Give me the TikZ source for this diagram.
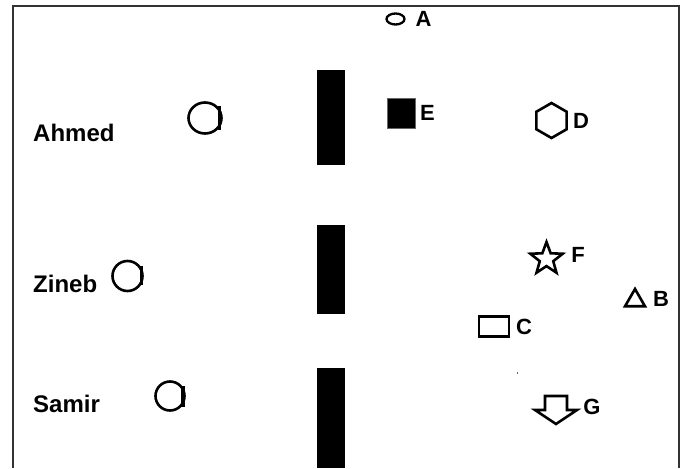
\documentclass[tikz,border=0pt]{standalone}
\usepackage{fontspec}
\setmainfont{Liberation Sans}
\usetikzlibrary{shapes.geometric,shapes.arrows}
\begin{document}
\begin{tikzpicture}[x=1pt,y=-1pt,
  shp/.style={draw=black,line width=2.6pt,inner sep=0pt},
  lbl/.style={font=\fontsize{22}{22}\selectfont\bfseries,inner sep=0pt},
  personlbl/.style={font=\fontsize{24}{24}\selectfont\bfseries,inner sep=0pt,anchor=west}]
\useasboundingbox (0,0) rectangle (687,468);
\fill[white] (0,0) rectangle (687,468);
% frame
\draw[line width=1.6pt,black!80] (13,468) -- (13,6) -- (679,6) -- (679,468);
% walls
\fill[black] (317,70) rectangle (345,165);
\fill[black] (317,225) rectangle (345,314);
\fill[black] (317,368) rectangle (345,468);
% people
\node[personlbl] (ahmed) at (33,132.5) {Ahmed};
\node[personlbl] (zineb) at (33,283.5) {Zineb};
\node[personlbl] (samir) at (33,403.5) {Samir};
\draw[line width=2.6pt] (205,118) ellipse [x radius=16.5, y radius=15.5];
\draw[line width=3.5pt] (219.5,106) -- (219.5,130);
\draw[line width=2.6pt] (127.5,276) circle [radius=15];
\draw[line width=3.5pt] (141.5,266) -- (141.5,285);
\draw[line width=2.6pt] (170,396) circle [radius=14.5];
\draw[line width=3.5pt] (183,386) -- (183,407);
% objects
\node[shp,ellipse,minimum width=18pt,minimum height=11pt,line width=2.3pt] (a) at (395.5,19) {};
\node[lbl] (la) at (423.5,18.5) {A};
\node[draw=black!60,fill=black,minimum width=28pt,minimum height=30pt,inner sep=0pt,line width=0.5pt] (e) at (401,113) {};
\node[lbl] (le) at (427.5,113) {E};
\node[shp,regular polygon,regular polygon sides=6,shape border rotate=30,minimum size=35pt] (d) at (551.5,120.5) {};
\node[lbl] (ld) at (581,120.5) {D};
\node[shp,star,star points=5,star point ratio=2.4,minimum size=34pt] (f) at (546.5,259) {};
\node[lbl] (lf) at (578,254.5) {F};
\node[shp,regular polygon,regular polygon sides=3,minimum size=23pt] (b) at (635,300.5) {};
\node[lbl] (lb) at (661,299) {B};
\node[shp,rectangle,minimum width=30pt,minimum height=20pt] (c) at (494,326.5) {};
\node[lbl] (lc) at (524,327) {C};
\draw[line width=2.6pt,line join=miter] (545,396) -- (567,396) -- (567,410) -- (577,410) -- (556,424) -- (535,410) -- (545,410) -- cycle;
\node[lbl] (lg) at (592,407) {G};
\fill[black!60] (516.5,371.5) rectangle (517.5,374);
\end{tikzpicture}
\end{document}
